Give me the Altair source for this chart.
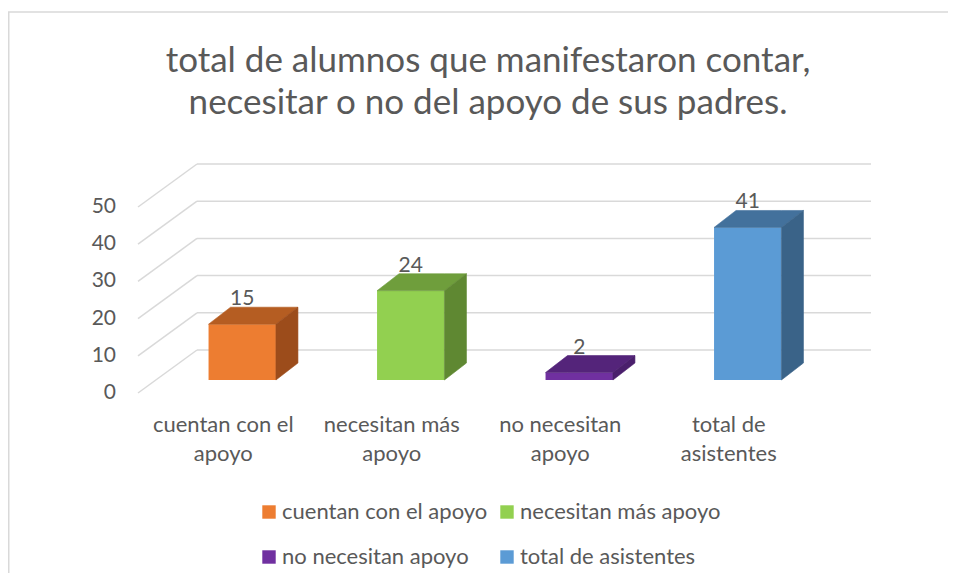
import altair as alt
import pandas as pd

# ---------------- data ----------------
categories = ["cuentan con el apoyo", "necesitan más apoyo", "no necesitan apoyo", "total de asistentes"]
cat_labels = ["cuentan con el\napoyo", "necesitan más\napoyo", "no necesitan\napoyo", "total de\nasistentes"]
values = [15, 24, 2, 41]
front_colors = ["#ED7D31", "#92D050", "#7030A0", "#5B9BD5"]
top_colors = ["#B55D22", "#6F9E3C", "#54247A", "#43719C"]
side_colors = ["#9C4C1B", "#5F8832", "#4A1F6C", "#3A6388"]
y_ticks = [0, 10, 20, 30, 40, 50]
title_lines = ["total de alumnos que manifestaron contar,", "necesitar o no del apoyo de sus padres."]

# ---------------- layout / style ----------------
W, H = 940, 565
FONT = "Lato"
TXT = "#595959"
GRID = "#D9D9D9"
X_DOMAIN = [-0.5, 3.5]
X_RANGE = [150, 824]
Y_DOMAIN = [0, 50]
PX_UNIT = 3.72
Y_RANGE = [372, 372 - 50 * PX_UNIT]
HALF = 0.2
BAR_DEPTH_PX = (22, 17)
BACK_PX = (39, -30)
FRONT_PX = (-20, 13)

px_per_cat = (X_RANGE[1] - X_RANGE[0]) / (X_DOMAIN[1] - X_DOMAIN[0])
ddx = BAR_DEPTH_PX[0] / px_per_cat
ddy = BAR_DEPTH_PX[1] / PX_UNIT

xs = alt.Scale(domain=X_DOMAIN, range=X_RANGE, nice=False, zero=False)
ys = alt.Scale(domain=Y_DOMAIN, range=Y_RANGE, nice=False, zero=False)

# ---------------- tables ----------------
bars = pd.DataFrame({
    "idx": list(range(len(categories))),
    "series": categories,
    "label": cat_labels,
    "v": values,
})
bars["x0"] = bars["idx"] - HALF
bars["x1"] = bars["idx"] + HALF
bars["zero"] = 0

face_rows = []
for i, v in enumerate(values):
    x0, x1 = i - HALF, i + HALF
    for (px, py, py2) in [(x0, v, v), (x0 + ddx, v, v + ddy), (x1, v, v + ddy), (x1 + ddx, v + ddy, v + ddy)]:
        face_rows.append({"face": f"top{i}", "fill": top_colors[i], "x": px, "y": py, "y2": py2})
    for (px, py, py2) in [(x1, 0, v), (x1 + ddx, ddy, v + ddy)]:
        face_rows.append({"face": f"side{i}", "fill": side_colors[i], "x": px, "y": py, "y2": py2})
faces = pd.DataFrame(face_rows)

grid = pd.DataFrame({"v": y_ticks, "xa": X_DOMAIN[0], "xb": X_DOMAIN[1], "xc": X_DOMAIN[0]})
one = pd.DataFrame({"t": ["\n".join(title_lines)]})

# ---------------- layers ----------------
frame_left = alt.Chart(one).mark_rule(color=GRID, strokeWidth=1.5).encode(
    x=alt.value(0.75), y=alt.value(4), y2=alt.value(H))
frame_top = alt.Chart(one).mark_rule(color=GRID, strokeWidth=1.5).encode(
    x=alt.value(0), x2=alt.value(W), y=alt.value(4))

grid_back = alt.Chart(grid).mark_rule(
    color=GRID, strokeWidth=1.5,
    xOffset=BACK_PX[0], x2Offset=BACK_PX[0], yOffset=BACK_PX[1]
).encode(
    x=alt.X("xa:Q", scale=xs, axis=None),
    x2="xb:Q",
    y=alt.Y("v:Q", scale=ys, axis=None),
)

grid_slant = alt.Chart(grid).mark_rule(
    color=GRID, strokeWidth=1.5,
    xOffset=FRONT_PX[0], yOffset=FRONT_PX[1],
    x2Offset=BACK_PX[0], y2Offset=BACK_PX[1]
).encode(
    x=alt.X("xa:Q", scale=xs, axis=None),
    x2="xc:Q",
    y=alt.Y("v:Q", scale=ys, axis=None),
    y2="v:Q",
)

ylabels = alt.Chart(grid).mark_text(
    align="right", baseline="middle", dx=FRONT_PX[0] - 22, dy=FRONT_PX[1],
    font=FONT, fontSize=21, color=TXT
).encode(
    x=alt.X("xa:Q", scale=xs, axis=None),
    y=alt.Y("v:Q", scale=ys, axis=None),
    text="v:Q",
)

front = alt.Chart(bars).mark_rect().encode(
    x=alt.X("x0:Q", scale=xs, axis=None),
    x2="x1:Q",
    y=alt.Y("zero:Q", scale=ys, axis=None),
    y2="v:Q",
    color=alt.Color(
        "series:N",
        scale=alt.Scale(domain=categories, range=front_colors),
        sort=categories,
        legend=alt.Legend(
            orient="none", legendX=250, legendY=493, columns=2, direction="horizontal",
            symbolType="square", symbolSize=180, symbolStrokeWidth=0,
            labelFont=FONT, labelFontSize=22, labelColor=TXT, labelOffset=2,
            rowPadding=23, columnPadding=8, padding=0, title=None, labelLimit=400,
        ),
    ),
)

faces_layer = alt.Chart(faces).mark_area(interpolate="linear", strokeWidth=0.6).encode(
    x=alt.X("x:Q", scale=xs, axis=None),
    y=alt.Y("y:Q", scale=ys, axis=None),
    y2="y2:Q",
    color=alt.Color("fill:N", scale=None, legend=None),
    stroke=alt.Stroke("fill:N", scale=None, legend=None),
    detail="face:N",
)

data_labels = alt.Chart(bars).mark_text(
    align="center", baseline="middle", dy=-25,
    font=FONT, fontSize=21, color=TXT
).encode(
    x=alt.X("idx:Q", scale=xs, axis=None),
    y=alt.Y("v:Q", scale=ys, axis=None),
    text="v:Q",
)

cat_text = alt.Chart(bars).mark_text(
    align="center", baseline="top", dx=FRONT_PX[0] + 1, dy=35,
    lineBreak="\n", lineHeight=29,
    font=FONT, fontSize=22, color=TXT
).encode(
    x=alt.X("idx:Q", scale=xs, axis=None),
    y=alt.Y("zero:Q", scale=ys, axis=None),
    text="label:N",
)

title = alt.Chart(one).mark_text(
    align="center", baseline="alphabetic", lineBreak="\n", lineHeight=42,
    font=FONT, fontSize=35, color=TXT
).encode(
    x=alt.value(480), y=alt.value(64), text="t:N"
)

chart = alt.layer(
    frame_left, frame_top, grid_back, grid_slant, ylabels,
    front, faces_layer, data_labels, cat_text, title
).properties(
    width=W, height=H,
    autosize=alt.AutoSizeParams(type="none"),
    padding=0,
    background="white",
).configure_view(stroke=None)

chart.save("out.html", embed_options={"renderer": "svg", "actions": False})
